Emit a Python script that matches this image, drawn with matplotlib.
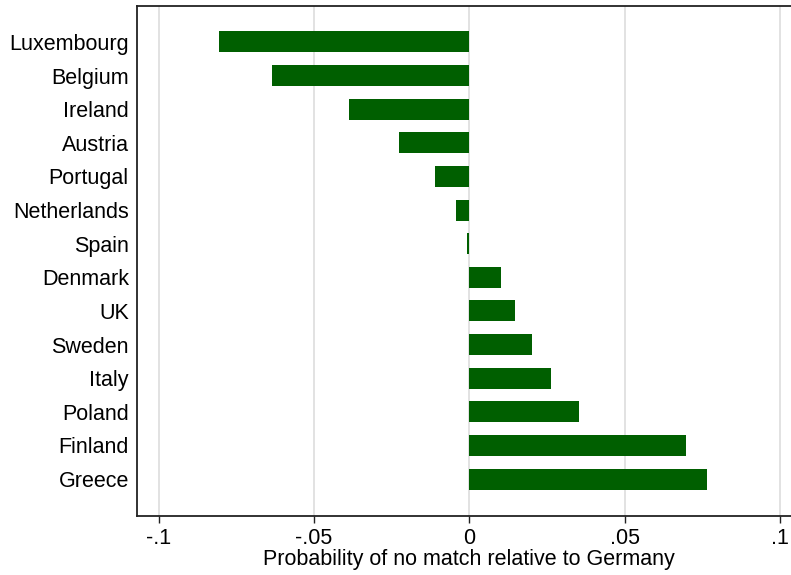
import matplotlib
matplotlib.use("Agg")
import matplotlib.pyplot as plt
import numpy as np

# --------------------------------------------------
# Data
# --------------------------------------------------
countries = ["Luxembourg", "Belgium", "Ireland", "Austria", "Portugal",
             "Netherlands", "Spain", "Denmark", "UK", "Sweden", "Italy",
             "Poland", "Finland", "Greece"]
values = [-0.0807, -0.0635, -0.0388, -0.0227, -0.0110, -0.0044, -0.0006,
          0.0102, 0.0146, 0.0201, 0.0264, 0.0353, 0.0697, 0.0766]
xticks = [-0.1, -0.05, 0, 0.05, 0.1]
xtick_labels = ["-.1", "-.05", "0", ".05", ".1"]

plt.rcParams['font.family'] = ['Liberation Sans', 'DejaVu Sans']

# --------------------------------------------------
# Plot
# --------------------------------------------------
fig = plt.figure(figsize=(7.91, 5.75), dpi=100)
ax = fig.add_axes([136.5 / 791, 1 - 516 / 575, 1 - 136.5 / 791, (516 - 6) / 575])

ypos = np.arange(len(countries))[::-1]
ax.barh(ypos, values, height=0.625, color='#005f00', zorder=3)

ax.set_xlim(-0.1071, 0.1036)
ax.set_ylim(-1.1, len(countries) - 1 + 1.07)
ax.set_xticks(xticks)
ax.set_xticklabels(xtick_labels)
ax.set_yticks(ypos)
ax.set_yticklabels(countries)

ax.grid(axis='x', color='#dddddd', linewidth=1.2, zorder=0)
ax.tick_params(axis='y', length=0, pad=5.5, labelsize=15.5, colors='black')
ax.tick_params(axis='x', length=5, width=1, pad=3.5, labelsize=15.5, color='#222222')

for side in ['left', 'bottom', 'top']:
    ax.spines[side].set_color('#222222')
    ax.spines[side].set_linewidth(1.3)
ax.spines['right'].set_visible(False)

ax.set_xlabel("Probability of no match relative to Germany", fontsize=15.5)
# label in the reference sits a little right of the axes centre
ax.xaxis.label.set_verticalalignment('top')
ax.xaxis.set_label_coords((468.5 - 136.5) / (791 - 136.5), -(549 - 516) / 510)

fig.savefig("out.png", dpi=100)
plt.close(fig)
